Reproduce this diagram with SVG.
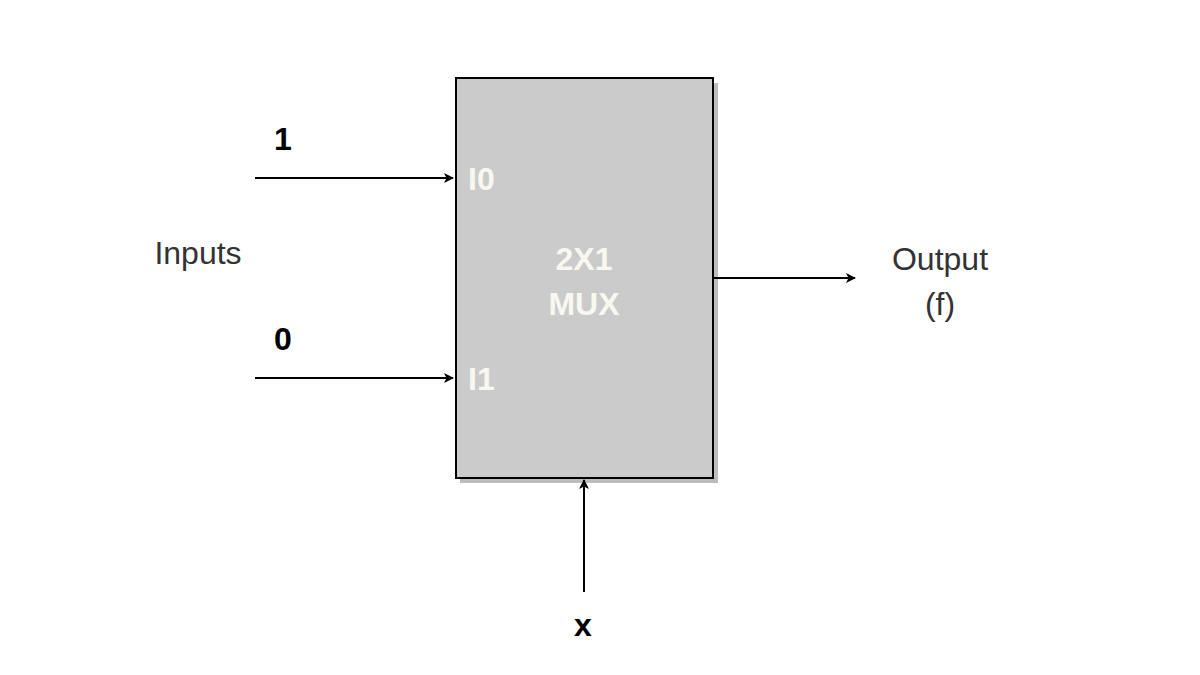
<svg xmlns="http://www.w3.org/2000/svg" width="1200" height="675" viewBox="0 0 1200 675">
<defs>
<marker id="ah" markerWidth="10" markerHeight="10" refX="9" refY="5" orient="auto" markerUnits="userSpaceOnUse"><path d="M0,0 L10,5 L0,10 L2.5,5 Z" fill="#000"/></marker>
<style>
.l{stroke:#000;stroke-width:2;fill:none}
.t{font-family:"Liberation Sans",Arial,sans-serif;font-size:32px}
.w{font-family:"Liberation Sans",Arial,sans-serif;font-size:32px;font-weight:bold;fill:#f8f8f0}
</style>
</defs>
<rect width="1200" height="675" fill="#fff"/>
<g id="mux">
<rect x="460" y="83" width="258" height="400" fill="#bdbdbd"/>
<rect x="456" y="78" width="257" height="400" fill="#cbcbcb" stroke="#000" stroke-width="2"/>
<text class="w" x="468" y="190">I0</text>
<text class="w" x="468" y="390">I1</text>
<text class="w" x="584" y="270" text-anchor="middle">2X1</text>
<text class="w" x="584" y="315" text-anchor="middle">MUX</text>
</g>
<g id="connectors">
<line class="l" x1="255" y1="178" x2="453" y2="178" marker-end="url(#ah)"/>
<line class="l" x1="255" y1="378" x2="453" y2="378" marker-end="url(#ah)"/>
<line class="l" x1="713" y1="278" x2="855" y2="278" marker-end="url(#ah)"/>
<line class="l" x1="584" y1="592" x2="584" y2="480" marker-end="url(#ah)"/>
</g>
<g id="labels">
<text class="t" x="283" y="150" text-anchor="middle" font-weight="bold">1</text>
<text class="t" x="283" y="350" text-anchor="middle" font-weight="bold">0</text>
<text class="t" x="198" y="264" text-anchor="middle" fill="#333">Inputs</text>
<text class="t" x="940" y="270" text-anchor="middle" fill="#333">Output</text>
<text class="t" x="940" y="315" text-anchor="middle" fill="#333">(f)</text>
<text class="t" x="583" y="636" text-anchor="middle" font-weight="bold">x</text>
</g>
</svg>
